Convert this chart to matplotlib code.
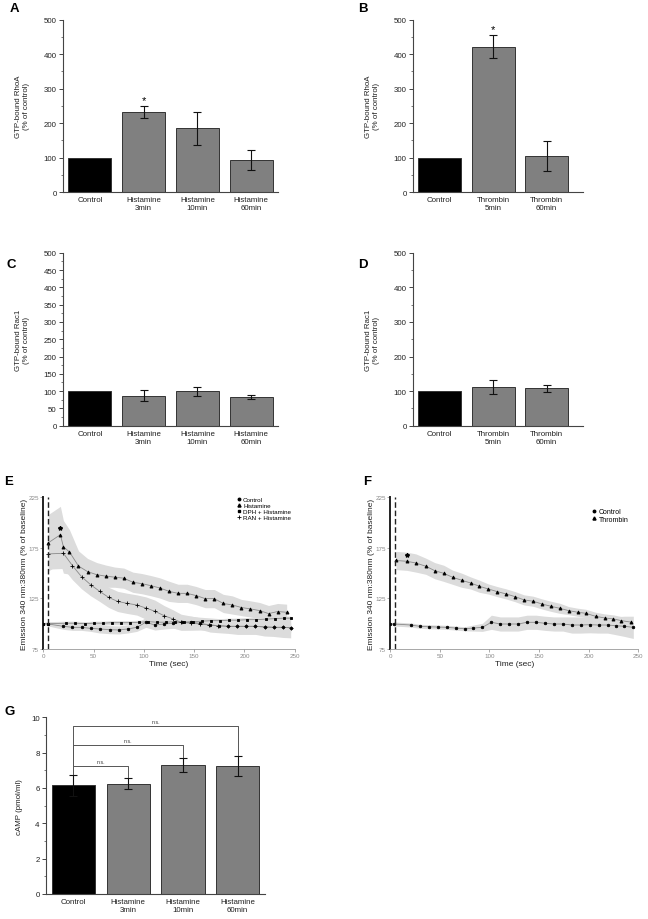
import matplotlib
matplotlib.use('Agg')
import matplotlib.pyplot as plt
from matplotlib.lines import Line2D
from matplotlib.ticker import MultipleLocator
import numpy as np

plt.rcParams['font.family'] = ['Liberation Sans', 'DejaVu Sans']

# ---- bar panel data ----
hist_labels = ['Control', 'Histamine\n3min', 'Histamine\n10min', 'Histamine\n60min']
thr_labels = ['Control', 'Thrombin\n5min', 'Thrombin\n60min']

rhoa_hist = [100, 232, 185, 93]
rhoa_hist_err = [0, 17, 48, 30]
rhoa_thr = [100, 422, 105]
rhoa_thr_err = [0, 33, 44]
rac_hist = [100, 86, 99, 84]
rac_hist_err = [0, 16, 14, 6]
rac_thr = [100, 113, 108]
rac_thr_err = [0, 20, 10]
camp = [6.15, 6.25, 7.28, 7.25]
camp_err = [0.6, 0.33, 0.4, 0.55]
ns_pairs = [(0, 1), (0, 2), (0, 3)]
ns_heights = [7.26, 8.42, 9.53]

# ---- calcium traces, panel E ----
t_ctrl_e = [0, 5, 20, 29, 38, 47, 56, 66, 75, 84, 93, 102, 111, 120, 129, 138, 147, 156, 166, 175,
            184, 193, 202, 211, 220, 229, 238, 246]
ctrl_e = [100, 99.7, 97.4, 96.4, 96.4, 95.4, 94.8, 94.1, 93.8, 94.8, 96.4, 101.4, 98.7, 99.7, 100.4,
          101.4, 101.4, 100.4, 98.7, 98, 97.4, 97.4, 97.4, 97.4, 96.8, 96.4, 96.4, 96]
ctrl_e_err = [1, 2, 3, 3, 3, 3, 4, 4, 4, 4, 4, 5, 5, 5, 5, 6, 6, 6, 7, 7, 7, 8, 8, 8, 9, 9, 10, 10]

t_hist_e = [5, 17, 20, 26, 35, 44, 53, 62, 71, 80, 89, 98, 107, 116, 125, 134, 143, 152, 161, 170,
            179, 188, 197, 206, 215, 224, 233, 242]
hist_e = [180, 188, 176, 171, 157, 151.5, 148.5, 147, 146, 145, 141, 139.6, 137.6, 135.3, 132, 130,
          130, 127.8, 124.8, 124.8, 120, 118.5, 116, 114.6, 113, 110, 112, 111.3]
hist_e_err = [28, 28, 26, 22, 15, 13, 12, 11, 10, 10, 10, 10, 10, 10, 10, 9, 9, 9, 9, 9, 9, 9, 8, 8,
              8, 8, 8, 8]

t_dph_e = [0, 5, 23, 32, 41, 50, 59, 68, 77, 86, 95, 104, 113, 122, 131, 140, 149, 158, 167, 176,
           185, 194, 203, 212, 221, 230, 239, 246]
dph_e = [100, 100, 100.5, 100.5, 100, 100.5, 100.5, 101, 101, 101, 101.4, 102, 101.5, 101.5, 102,
         101.5, 102, 102.5, 103, 103, 103.5, 103.5, 104, 104, 104.5, 105, 105.5, 105.5]
dph_e_err = [1, 2, 2, 2, 2, 2, 2, 2, 2, 2, 2, 2, 2, 2, 2, 2, 2, 2, 2, 2, 2, 2, 2, 2, 2, 2, 2, 2]

t_ran_e = [5, 20, 29, 38, 47, 56, 65, 74, 83, 93, 102, 111, 120, 129, 137, 147, 156, 165, 174, 184,
           193, 202, 211, 220, 229, 238, 246]
ran_e = [169, 169.6, 157.4, 146.5, 138.6, 132, 126, 122, 120.2, 118.5, 115.5, 112.3, 108, 104.7,
         101.4, 100.5, 99.7, 98.7, 98, 97.4, 97.4, 97.4, 97.4, 96.8, 96.4, 96.4, 96]
ran_e_err = [15, 15, 14, 12, 11, 10, 10, 10, 10, 10, 11, 11, 10, 9, 8, 7, 6, 5, 5, 5, 5, 5, 5, 5, 5,
             5, 5]
star_e = ([17], [195])

# ---- calcium traces, panel F ----
t_ctrl_f = [0, 4, 21, 30, 39, 48, 57, 66, 75, 84, 93, 102, 111, 120, 129, 138, 147, 156, 165, 174,
            183, 192, 201, 210, 219, 228, 236, 245]
ctrl_f = [100, 99.7, 98.7, 97.4, 97, 96.7, 96.4, 95.7, 95, 95.7, 96.4, 101.4, 99.7, 99.7, 99.7, 101.4,
          101.4, 100.4, 99.7, 99.7, 98.7, 98.7, 99, 98.7, 98.7, 98, 97.4, 96.4]
ctrl_f_err = [0, 2, 2, 2, 2, 2, 2, 2, 2, 3, 4, 7, 7, 7, 7, 7, 7, 7, 7, 7, 8, 8, 8, 8, 8, 9, 10, 11]

t_thr_f = [6, 17, 26, 36, 45, 54, 63, 72, 81, 90, 99, 108, 117, 126, 135, 144, 153, 162, 171, 180,
           189, 197, 207, 216, 225, 233, 243]
thr_f = [162.5, 161.7, 160, 156.8, 152.4, 149.8, 145.9, 143, 140.3, 137, 134.3, 131.7, 129.4, 126.7,
         123.5, 122.2, 119.5, 117.2, 115.2, 112.9, 111.3, 110.3, 107.3, 105.7, 104.7, 103, 101.5]
thr_f_err = [9, 9, 9, 8, 8, 8, 7, 7, 6, 6, 5, 5, 5, 5, 5, 5, 5, 5, 5, 4, 4, 4, 4, 4, 4, 4, 4]
star_f = ([17], [168])

BLACK = '#000000'
GRAY = '#808080'
SPINE = '#444444'


def bar_panel(ax, labels, vals, errs, ymax, major, minor, ylabel, star=None, xmax=None):
    x = np.arange(len(vals))
    colors = [BLACK] + [GRAY] * (len(vals) - 1)
    ax.bar(x, vals, width=0.8, color=colors, edgecolor='#333333', linewidth=0.7, zorder=2)
    ax.errorbar(x[1:], vals[1:], yerr=errs[1:], fmt='none', ecolor='#111111', elinewidth=0.8,
                capsize=3.2, capthick=0.8, zorder=3)
    if star is not None:
        ax.text(star, vals[star] + errs[star] + ymax * 0.005, '*', ha='center', va='bottom',
                fontsize=8)
    ax.set_xlim(-0.5, xmax if xmax else len(vals) - 0.5)
    ax.set_ylim(0, ymax)
    ax.yaxis.set_major_locator(MultipleLocator(major))
    ax.yaxis.set_minor_locator(MultipleLocator(minor))
    ax.set_xticks(x)
    ax.set_xticklabels(labels, fontsize=5.7, color='#222222')
    ax.tick_params(axis='x', length=0, pad=3)
    ax.tick_params(axis='y', which='major', length=3, width=0.7, color=SPINE, labelsize=5.7,
                   labelcolor='#222222', pad=1.5)
    ax.tick_params(axis='y', which='minor', length=1.5, width=0.5, color=SPINE)
    for s in ['top', 'right']:
        ax.spines[s].set_visible(False)
    for s in ['left', 'bottom']:
        ax.spines[s].set_color(SPINE)
        ax.spines[s].set_linewidth(0.8)
    ax.set_ylabel(ylabel, fontsize=5.7, color='#222222', labelpad=10, linespacing=1.1)


fig = plt.figure(figsize=(6.48, 9.2), dpi=100)

axA = fig.add_axes([0.0972, 0.7902, 0.332, 0.1873])
bar_panel(axA, hist_labels, rhoa_hist, rhoa_hist_err, 500, 100, 50,
          'GTP-bound RhoA\n(% of control)', star=1)
axB = fig.add_axes([0.637, 0.7902, 0.262, 0.1873])
bar_panel(axB, thr_labels, rhoa_thr, rhoa_thr_err, 500, 100, 50,
          'GTP-bound RhoA\n(% of control)', star=1, xmax=2.67)
axC = fig.add_axes([0.0972, 0.5362, 0.332, 0.188])
bar_panel(axC, hist_labels, rac_hist, rac_hist_err, 500, 50, 25,
          'GTP-bound Rac1\n(% of control)')
axD = fig.add_axes([0.637, 0.5362, 0.262, 0.188])
bar_panel(axD, thr_labels, rac_thr, rac_thr_err, 500, 100, 50,
          'GTP-bound Rac1\n(% of control)', xmax=2.67)

# ---- G ----
axG = fig.add_axes([0.071, 0.0272, 0.338, 0.192])
xg = np.arange(len(camp))
axG.bar(xg, camp, width=0.79, color=[BLACK] + [GRAY] * 3, edgecolor='#333333', linewidth=0.7,
        zorder=2)
axG.errorbar(xg, camp, yerr=camp_err, fmt='none', ecolor='#111111', elinewidth=0.8, capsize=3.2,
             capthick=0.8, zorder=3)
for (i, j), h in zip(ns_pairs, ns_heights):
    axG.plot([i, i, j, j], [camp[i] + camp_err[i], h, h, camp[j] + camp_err[j]], color='#555555',
             lw=0.7, zorder=1)
    axG.text((i + j) / 2, h + 0.12, 'n.s.', ha='center', va='bottom', fontsize=3.8, color='#333333')
axG.set_xlim(-0.5, 3.5)
axG.set_ylim(0, 10)
axG.yaxis.set_major_locator(MultipleLocator(2))
axG.yaxis.set_minor_locator(MultipleLocator(1))
axG.set_xticks(xg)
axG.set_xticklabels(hist_labels, fontsize=5.7, color='#222222')
axG.tick_params(axis='x', length=0, pad=3)
axG.tick_params(axis='y', which='major', length=3, width=0.7, color=SPINE, labelsize=5.7,
                labelcolor='#222222', pad=1.5)
axG.tick_params(axis='y', which='minor', length=1.5, width=0.5, color=SPINE)
for s in ['top', 'right']:
    axG.spines[s].set_visible(False)
for s in ['left', 'bottom']:
    axG.spines[s].set_color(SPINE)
    axG.spines[s].set_linewidth(0.8)
axG.set_ylabel('cAMP (pmol/ml)', fontsize=5.7, color='#222222', labelpad=6)


def trace(ax, t, v, err, marker, ms):
    t = np.array(t, dtype=float)
    v = np.array(v, dtype=float)
    err = np.array(err, dtype=float)
    ax.fill_between(t, v - err, v + err, color='#dcdcdc', lw=0, zorder=1)
    ax.plot(t, v, color='#8a8a8a', lw=0.6, zorder=2)
    ax.plot(t, v, ls='none', marker=marker, ms=ms, color='black', mew=0.6, zorder=3)


def trace_axes(ax):
    ax.set_xlim(0, 250)
    ax.set_ylim(75, 225)
    ax.set_xticks([0, 50, 100, 150, 200, 250])
    ax.set_yticks([75, 125, 175, 225])
    ax.tick_params(axis='both', length=2, width=0.5, colors='#888888', labelsize=4.5, pad=1)
    for s in ['top', 'right']:
        ax.spines[s].set_visible(False)
    ax.spines['left'].set_color('#222222')
    ax.spines['left'].set_linewidth(1.4)
    ax.spines['bottom'].set_color('#999999')
    ax.spines['bottom'].set_linewidth(0.6)
    ax.axvline(5, color='#222222', ls=(0, (4, 2)), lw=1.0, zorder=4)
    ax.set_xlabel('Time (sec)', fontsize=6, color='#222222', labelpad=1.5)
    ax.set_ylabel('Emission 340 nm:380nm (% of baseline)', fontsize=6, color='#222222',
                  labelpad=0.5)


# ---- E ----
axE = fig.add_axes([0.0668, 0.2935, 0.388, 0.1649])
for t, v, e in [(t_hist_e, hist_e, hist_e_err), (t_ran_e, ran_e, ran_e_err),
                (t_ctrl_e, ctrl_e, ctrl_e_err), (t_dph_e, dph_e, dph_e_err)]:
    axE.fill_between(t, np.array(v) - np.array(e), np.array(v) + np.array(e), color='#dcdcdc',
                     lw=0, zorder=1)
for t, v, m, ms in [(t_hist_e, hist_e, '^', 2.2), (t_ran_e, ran_e, '+', 3.5),
                    (t_ctrl_e, ctrl_e, 'o', 1.8), (t_dph_e, dph_e, 's', 1.8)]:
    axE.plot(t, v, color='#8a8a8a', lw=0.6, zorder=2)
    axE.plot(t, v, ls='none', marker=m, ms=ms, color='black', mew=0.6, zorder=3)
axE.plot(star_e[0], star_e[1], ls='none', marker='*', ms=3, color='black', zorder=3)
trace_axes(axE)
handles_e = [Line2D([], [], ls='none', marker='o', ms=1.8, color='black'),
             Line2D([], [], ls='none', marker='^', ms=2.2, color='black'),
             Line2D([], [], ls='none', marker='s', ms=1.8, color='black'),
             Line2D([], [], ls='none', marker='+', ms=3.5, mew=0.6, color='black')]
axE.legend(handles_e, ['Control', 'Histamine', 'DPH + Histamine', 'RAN + Histamine'],
           loc='upper left', bbox_to_anchor=(0.75, 1.03), frameon=False, fontsize=4.5,
           handlelength=0.8, handletextpad=0.3, labelspacing=0.1, borderpad=0.2)

# ---- F ----
axF = fig.add_axes([0.602, 0.2935, 0.383, 0.1649])
trace(axF, t_thr_f, thr_f, thr_f_err, '^', 2.2)
trace(axF, t_ctrl_f, ctrl_f, ctrl_f_err, 'o', 1.8)
axF.plot(star_f[0], star_f[1], ls='none', marker='*', ms=3, color='black', zorder=3)
trace_axes(axF)
handles_f = [Line2D([], [], ls='none', marker='o', ms=1.8, color='black'),
             Line2D([], [], ls='none', marker='^', ms=2.2, color='black')]
axF.legend(handles_f, ['Control', 'Thrombin'], loc='upper left', bbox_to_anchor=(0.79, 0.96),
           frameon=False, fontsize=5, handlelength=0.8, handletextpad=0.3, labelspacing=0.1,
           borderpad=0.2)

# ---- panel letters ----
for lab, x, y in [('A', 14, 9), ('B', 363, 9), ('C', 11, 265), ('D', 363, 265),
                  ('E', 9, 482), ('F', 367, 482), ('G', 10, 712)]:
    fig.text(x / 648, 1 - y / 920, lab, ha='center', va='center', fontsize=9.5,
             fontweight='bold')

fig.savefig('out.png', dpi=100)
